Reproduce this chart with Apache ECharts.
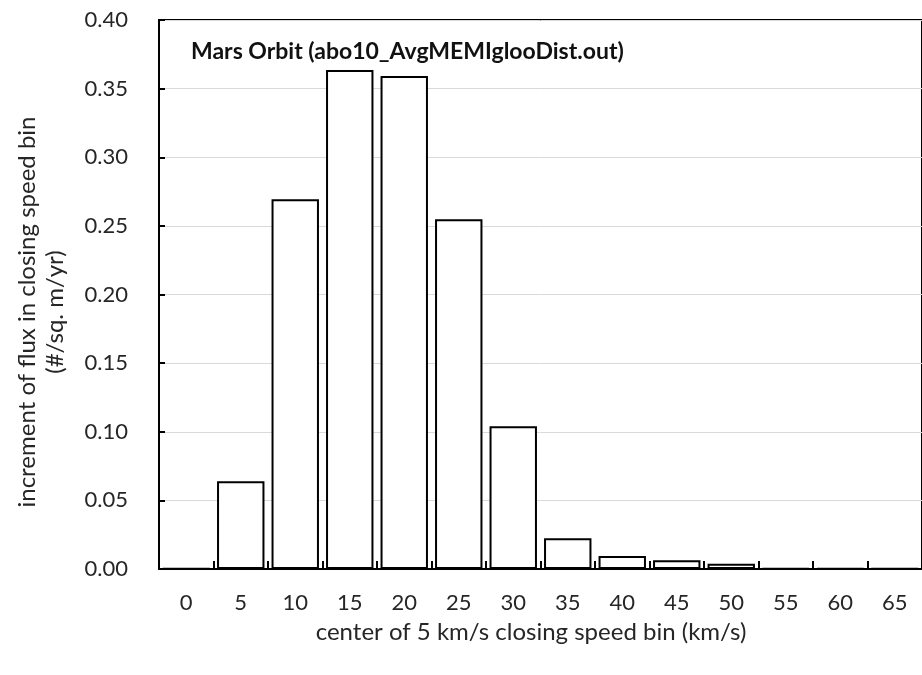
<!DOCTYPE html>
<html>
<head>
<meta charset="utf-8">
<script src="https://cdn.jsdelivr.net/npm/echarts@6/dist/echarts.min.js"></script>
<style>html,body{margin:0;padding:0;background:#fff}#c{width:922px;height:675px}</style>
</head>
<body>
<div id="c"></div>
<script>
var categories = ['0','5','10','15','20','25','30','35','40','45','50','55','60','65'];
var fluxValues = [0.0003,0.064,0.2694,0.3636,0.3592,0.2548,0.104,0.0224,0.0095,0.0063,0.0039,0.0005,0.0005,0.0002];
var yTicks = [0,0.05,0.10,0.15,0.20,0.25,0.30,0.35,0.40];
var titleText = 'Mars Orbit (abo10_AvgMEMIglooDist.out)';
var xName = 'center of 5 km/s closing speed bin (km/s)';
var yName = 'increment of flux in closing speed bin\n(#/sq. m/yr)';

var FONT = 'Lato';
var chart = echarts.init(document.getElementById('c'), null, {renderer:'canvas'});
chart.setOption({
  animation: false,
  backgroundColor: '#fff',
  grid: {left:159, top:20, width:773, height:549, show:true, borderColor:'#000', borderWidth:2, backgroundColor:'transparent'},
  xAxis: {
    type:'category', data:categories,
    axisLine:{show:true, lineStyle:{color:'#000', width:2}},
    axisTick:{show:true, inside:true, length:8, alignWithLabel:false, lineStyle:{color:'#000', width:2}},
    axisLabel:{interval:0, margin:23, color:'#262626', fontFamily:FONT, fontSize:22},
    splitLine:{show:false}
  },
  yAxis: {
    type:'value', min:0, max:0.4, interval:0.05,
    axisLine:{show:true, lineStyle:{color:'#000', width:2}},
    axisTick:{show:true, inside:true, length:6, lineStyle:{color:'#000', width:2}},
    axisLabel:{margin:31, color:'#262626', fontFamily:FONT, fontSize:22, formatter:function(v){return v.toFixed(2);}},
    splitLine:{show:true, lineStyle:{color:'#d9d9d9', width:1}}
  },
  series: [{
    type:'bar', data:fluxValues, barCategoryGap:'13%',
    itemStyle:{color:'#fff', borderColor:'#000', borderWidth:2}
  }],
  graphic: [
    {type:'text', left:191, top:40, style:{text:titleText, fontFamily:FONT, fontWeight:'bold', fontSize:23, fill:'#111'}},
    {type:'text', x:531, y:632, style:{text:xName, fontFamily:FONT, fontSize:24, fill:'#262626', textAlign:'center', textVerticalAlign:'middle'}},
    {type:'text', x:41, y:312, rotation:Math.PI/2, style:{text:yName, fontFamily:FONT, fontSize:24, lineHeight:28, fill:'#262626', textAlign:'center', textVerticalAlign:'middle'}}
  ]
});
</script>
</body>
</html>
